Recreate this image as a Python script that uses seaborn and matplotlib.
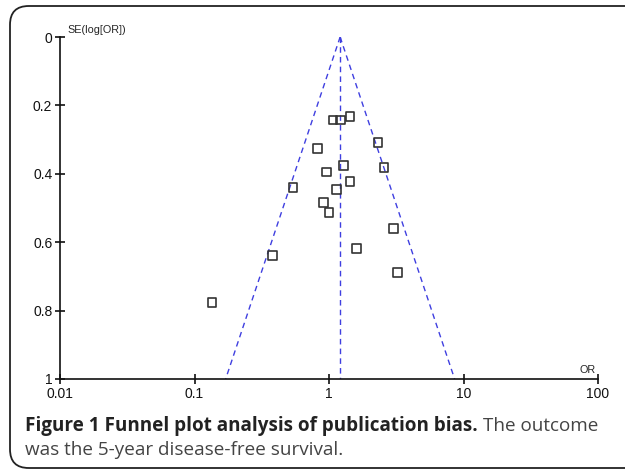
import numpy as np
import pandas as pd
import matplotlib
matplotlib.use("Agg")
import matplotlib.pyplot as plt
import seaborn as sns
from matplotlib.patches import FancyBboxPatch

# Study estimates
odds_ratio = [1.07, 1.21, 1.43, 0.82, 2.31, 1.29, 0.96, 2.56, 0.54,
              1.43, 1.13, 0.91, 1.00, 1.61, 3.03, 3.22, 0.38, 0.135]
se_log_or = [0.243, 0.243, 0.233, 0.327, 0.309, 0.375, 0.395, 0.381, 0.439,
             0.423, 0.445, 0.483, 0.513, 0.619, 0.561, 0.689, 0.640, 0.777]
pooled_or = 1.21
x_ticks = [0.01, 0.1, 1, 10, 100]
x_tick_labels = ["0.01", "0.1", "1", "10", "100"]
y_ticks = [0, 0.2, 0.4, 0.6, 0.8, 1]
y_tick_labels = ["0", "0.2", "0.4", "0.6", "0.8", "1"]

df = pd.DataFrame({"OR": odds_ratio, "SE": se_log_or})

# 95% pseudo confidence limits of the funnel
se_edge = np.array([0.0, 1.0])
funnel = pd.DataFrame({
    "SE": np.concatenate([se_edge, se_edge]),
    "OR": np.concatenate([np.exp(np.log(pooled_or) - 1.96 * se_edge),
                          np.exp(np.log(pooled_or) + 1.96 * se_edge)]),
    "side": ["lo", "lo", "hi", "hi"],
})
centre = pd.DataFrame({"OR": [pooled_or, pooled_or], "SE": se_edge})

sns.set_style("ticks")
plt.rcParams["font.family"] = ["Liberation Sans", "DejaVu Sans"]

fig = plt.figure(figsize=(6.25, 4.71), dpi=100)
W, H = 625, 471

# rounded frame
fig.patches.append(FancyBboxPatch((10 / W, 3 / H), 700 / W, 465 / H - 3 / H,
                                  boxstyle="round,pad=0,rounding_size=0.03",
                                  transform=fig.transFigure, facecolor="none",
                                  edgecolor="#222222", linewidth=1.3,
                                  mutation_aspect=W / H, zorder=-1))

ax = fig.add_axes([60 / W, 1 - 379 / H, 538 / W, 342 / H])
ax.patch.set_alpha(0)

sns.lineplot(data=funnel, x="OR", y="SE", units="side", estimator=None,
             sort=False, color="#3f3fe0", lw=1.0, dashes=False,
             linestyle=(0, (4, 3)), ax=ax)
sns.lineplot(data=centre, x="OR", y="SE", estimator=None, sort=False,
             color="#3f3fe0", lw=1.0, linestyle=(0, (4, 3)), ax=ax)
sns.scatterplot(data=df, x="OR", y="SE", marker="s", s=40,
                facecolor="none", edgecolor="#333333", linewidth=1.2,
                ax=ax, zorder=3)

ax.set_xscale("log")
ax.set_xlim(0.01, 100)
ax.set_ylim(1, 0)
ax.set_xticks(x_ticks)
ax.set_xticklabels(x_tick_labels)
ax.set_yticks(y_ticks)
ax.set_yticklabels(y_tick_labels)
ax.minorticks_off()
ax.set_xlabel("")
ax.set_ylabel("")
for s in ["top", "right"]:
    ax.spines[s].set_visible(False)
for s in ["left", "bottom"]:
    ax.spines[s].set_linewidth(1.2)
    ax.spines[s].set_color("#111111")
ax.tick_params(direction="inout", length=7, width=1.2, color="#111111",
               labelsize=10, labelcolor="#111111", pad=2)

ax.text(7 / 538, 1.005, "SE(log[OR])", transform=ax.transAxes,
        fontsize=7.8, ha="left", va="bottom")
ax.text(0.995, 0.012, "OR", transform=ax.transAxes, fontsize=7.8,
        ha="right", va="bottom")

# caption
cap_font = ["Open Sans", "DejaVu Sans"]
cap_size = 13.6
t1 = fig.text(25 / W, 1 - 431 / H, "Figure 1 Funnel plot analysis of publication bias.",
              fontsize=cap_size, fontweight="bold", family=cap_font, color="#222222",
              va="baseline", ha="left")
fig.canvas.draw()
bb = t1.get_window_extent()
fig.text((bb.x1 + 5) / W, 1 - 431 / H, "The outcome", fontsize=cap_size,
         family=cap_font, color="#444444", va="baseline", ha="left")
fig.text(25 / W, 1 - 455 / H, "was the 5-year disease-free survival.",
         fontsize=cap_size, family=cap_font, color="#444444", va="baseline", ha="left")

fig.savefig("out.png", dpi=100)
